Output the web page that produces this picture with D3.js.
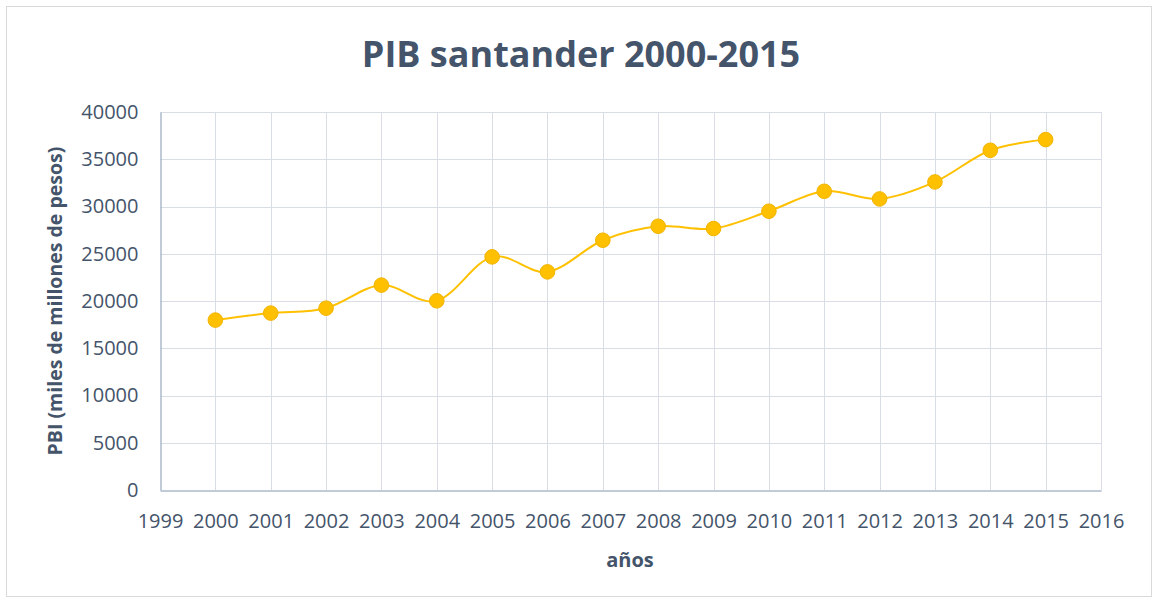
<!DOCTYPE html>
<html><head><meta charset="utf-8">
<script src="https://d3js.org/d3.v7.min.js"></script>
<style>
html,body{margin:0;padding:0;background:#fff;}
svg{display:block;}
text{font-family:"Open Sans",Calibri,sans-serif;fill:#44546a;}
</style></head>
<body>
<script>
const years = [2000,2001,2002,2003,2004,2005,2006,2007,2008,2009,2010,2011,2012,2013,2014,2015];
const pib = [17980,18720,19240,21680,20020,24670,23080,26430,27910,27670,29500,31610,30800,32600,35950,37080];
const xTicks = d3.range(1999, 2017);
const yTicks = [0,5000,10000,15000,20000,25000,30000,35000,40000];
const title = "PIB santander 2000-2015";
const xTitle = "años";
const yTitle = "PBI (miles de millones de pesos)";

const W = 1155, H = 602;
const m = {left:160, right:54, top:112, bottom:112};
const svg = d3.select("body").append("svg").attr("width", W).attr("height", H);

svg.append("rect").attr("x",6.5).attr("y",6.5).attr("width",1145).attr("height",590)
  .attr("fill","#fff").attr("stroke","#d9d9d9").attr("stroke-width",1);

const x = d3.scaleLinear().domain([1999,2016]).range([m.left, W - m.right]);
const y = d3.scaleLinear().domain([0,40000]).range([H - m.bottom, m.top]);

// gridlines
const g = svg.append("g");
g.selectAll(".hg").data(yTicks.slice(1)).join("line")
  .attr("x1", x(1999)).attr("x2", x(2016))
  .attr("y1", d => Math.round(y(d))+0.5).attr("y2", d => Math.round(y(d))+0.5)
  .attr("stroke","#d9dde6").attr("stroke-width",1);
g.selectAll(".vg").data(xTicks.slice(1)).join("line")
  .attr("y1", y(0)).attr("y2", y(40000))
  .attr("x1", d => Math.round(x(d))+0.5).attr("x2", d => Math.round(x(d))+0.5)
  .attr("stroke","#d9dde6").attr("stroke-width",1);

// axes
const xAxis = svg.append("g").attr("transform", `translate(0,${Math.round(y(0))+0.5})`)
  .call(d3.axisBottom(x).tickValues(xTicks).tickFormat(d3.format("d")).tickSize(0).tickPadding(23));
xAxis.select(".domain").attr("stroke","#adb9ca").attr("stroke-width",1.5);
xAxis.selectAll("text").attr("font-size","20px").style("fill","#44546a")
  .style("font-family",'"Open Sans",sans-serif');

const yAxis = svg.append("g").attr("transform", `translate(${Math.round(x(1999))+0.5},0)`)
  .call(d3.axisLeft(y).tickValues(yTicks).tickFormat(d3.format("d")).tickSize(0).tickPadding(22));
yAxis.select(".domain").attr("stroke","#adb9ca").attr("stroke-width",1.5);
yAxis.selectAll("text").attr("font-size","20px").style("fill","#44546a")
  .style("font-family",'"Open Sans",sans-serif');

// line
const data = years.map((yr,i) => ({yr, v:pib[i]}));
const line = d3.line().x(d => x(d.yr)).y(d => y(d.v)).curve(d3.curveCatmullRom.alpha(0));
svg.append("path").datum(data).attr("d", line)
  .attr("fill","none").attr("stroke","#ffc000").attr("stroke-width",2);
svg.selectAll(".pt").data(data).join("circle")
  .attr("cx", d => x(d.yr)).attr("cy", d => y(d.v)).attr("r", 7.3)
  .attr("fill","#ffc000").attr("stroke","#f2b400").attr("stroke-width",1);

// titles
svg.append("text").attr("x", 581).attr("y", 67).attr("text-anchor","middle")
  .attr("font-size","36px").attr("font-weight","bold").text(title);
svg.append("text").attr("x", 630).attr("y", 567).attr("text-anchor","middle")
  .attr("font-size","20px").attr("font-weight","bold").text(xTitle);
svg.append("text").attr("transform","translate(62,301) rotate(-90)").attr("text-anchor","middle")
  .attr("font-size","19.5px").attr("font-weight","bold").text(yTitle);
</script>
</body></html>
